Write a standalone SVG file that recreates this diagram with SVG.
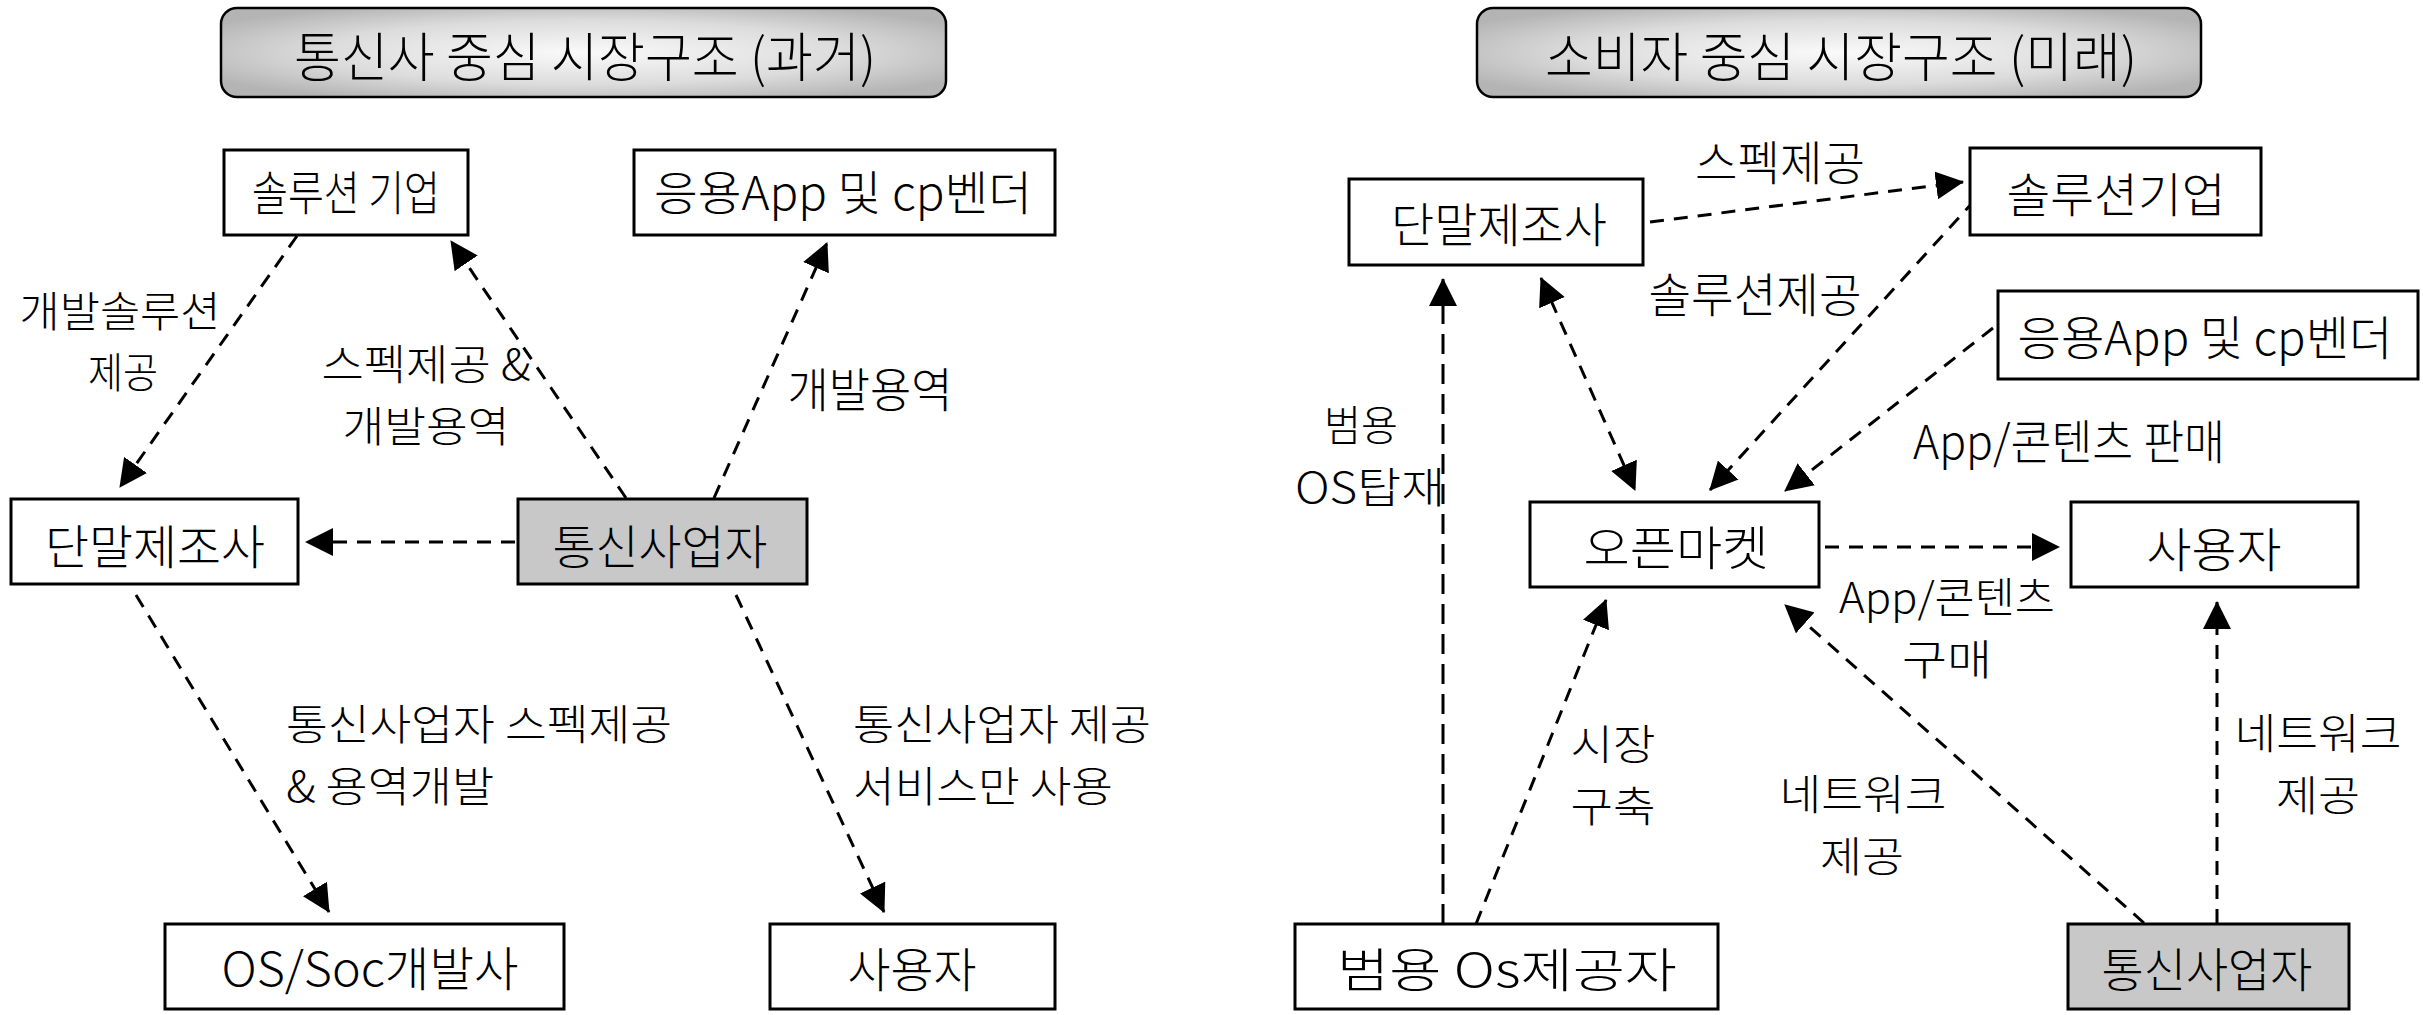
<svg xmlns="http://www.w3.org/2000/svg" width="2423" height="1015" viewBox="0 0 2423 1015">
<style>
text{font-family:"Noto Sans CJK KR","Noto Sans",sans-serif;font-size:47px;font-weight:300;fill:#000;text-anchor:middle}
.t{font-size:53px}
.s{font-size:42px}
.n{fill:#fff;stroke:#000;stroke-width:3}
.g{fill:#c8c8c8;stroke:#000;stroke-width:3}
.h{fill:url(#hg);stroke:#000;stroke-width:2.5}
.c{fill:none;stroke:#000;stroke-width:3;stroke-dasharray:14 10;marker-end:url(#ah)}
.lv{stroke-dasharray:20 10}
</style>
<defs>
<radialGradient id="hg" cx="0.5" cy="0.5" r="0.6">
<stop offset="0" stop-color="#fafafa"/>
<stop offset="0.6" stop-color="#dcdcdc"/>
<stop offset="1" stop-color="#b4b4b4"/>
</radialGradient>
<marker id="ah" markerUnits="userSpaceOnUse" markerWidth="28" markerHeight="28" viewBox="0 0 28 28" refX="27" refY="14" orient="auto-start-reverse">
<path d="M0,0 L28,14 L0,28 Z" fill="#000"/>
</marker>
</defs>
<rect width="2423" height="1015" fill="#fff"/>
<g id="connectors">
<line class="c" x1="297" y1="236" x2="120" y2="487"/>
<line class="c" x1="626" y1="498" x2="451" y2="241"/>
<line class="c" x1="714" y1="498" x2="827" y2="243"/>
<line class="c" x1="515" y1="542" x2="306" y2="542"/>
<line class="c" x1="136" y1="595" x2="329" y2="912"/>
<line class="c" x1="736" y1="595" x2="884" y2="912"/>
<line class="c" x1="1650" y1="222" x2="1963" y2="182"/>
<line class="c" x1="1975" y1="200" x2="1710" y2="490"/>
<line class="c" x1="1993" y1="328" x2="1785" y2="491"/>
<line class="c" x1="1541" y1="278" x2="1635" y2="490" style="marker-start:url(#ah)"/>
<line class="c lv" x1="1443" y1="924" x2="1443" y2="279"/>
<line class="c" x1="1476" y1="924" x2="1606" y2="600"/>
<line class="c" x1="2144" y1="923" x2="1785" y2="605"/>
<line class="c" x1="2217" y1="923" x2="2217" y2="602"/>
<line class="c" x1="1825" y1="547" x2="2059" y2="547"/>
</g>
<g id="labels">
<text class="s"><tspan x="120" y="327" textLength="201" lengthAdjust="spacingAndGlyphs">개발솔루션</tspan><tspan x="123" y="388" textLength="70" lengthAdjust="spacingAndGlyphs">제공</tspan></text>
<text class="s"><tspan x="426" y="380" textLength="209" lengthAdjust="spacingAndGlyphs">스펙제공 &amp;</tspan><tspan x="426" y="442" textLength="167" lengthAdjust="spacingAndGlyphs">개발용역</tspan></text>
<text x="870" y="407" textLength="165" lengthAdjust="spacingAndGlyphs">개발용역</text>
<text class="s" style="text-anchor:start"><tspan x="286" y="740" textLength="386" lengthAdjust="spacingAndGlyphs">통신사업자 스펙제공</tspan><tspan x="286" y="802" textLength="208" lengthAdjust="spacingAndGlyphs">&amp; 용역개발</tspan></text>
<text class="s" style="text-anchor:start"><tspan x="853" y="740" textLength="298" lengthAdjust="spacingAndGlyphs">통신사업자 제공</tspan><tspan x="853" y="802" textLength="260" lengthAdjust="spacingAndGlyphs">서비스만 사용</tspan></text>
<text x="1780" y="180" textLength="170" lengthAdjust="spacingAndGlyphs">스펙제공</text>
<text x="1755" y="312" textLength="213" lengthAdjust="spacingAndGlyphs">솔루션제공</text>
<text x="2069" y="459" textLength="312" lengthAdjust="spacingAndGlyphs">App/콘텐츠 판매</text>
<text class="s"><tspan x="1361" y="441" textLength="74" lengthAdjust="spacingAndGlyphs">범용</tspan><tspan x="1370" y="503" textLength="150" lengthAdjust="spacingAndGlyphs">OS탑재</tspan></text>
<text class="s"><tspan x="1947" y="613" textLength="216" lengthAdjust="spacingAndGlyphs">App/콘텐츠</tspan><tspan x="1947" y="675" textLength="90" lengthAdjust="spacingAndGlyphs">구매</tspan></text>
<text class="s"><tspan x="1613" y="760" textLength="85" lengthAdjust="spacingAndGlyphs">시장</tspan><tspan x="1613" y="822" textLength="85" lengthAdjust="spacingAndGlyphs">구축</tspan></text>
<text class="s"><tspan x="1863" y="810" textLength="167" lengthAdjust="spacingAndGlyphs">네트워크</tspan><tspan x="1862" y="872" textLength="84" lengthAdjust="spacingAndGlyphs">제공</tspan></text>
<text class="s"><tspan x="2318" y="749" textLength="167" lengthAdjust="spacingAndGlyphs">네트워크</tspan><tspan x="2318" y="811" textLength="84" lengthAdjust="spacingAndGlyphs">제공</tspan></text>
</g>
<g id="title-left"><rect class="h" x="221" y="8" width="725" height="89" rx="16"/><text class="t" x="585" y="77" textLength="582" lengthAdjust="spacingAndGlyphs">통신사 중심 시장구조 (과거)</text></g>
<g id="title-right"><rect class="h" x="1477" y="8" width="724" height="89" rx="16"/><text class="t" x="1841" y="77" textLength="592" lengthAdjust="spacingAndGlyphs">소비자 중심 시장구조 (미래)</text></g>
<g id="l-solution"><rect class="n" x="224" y="150" width="244" height="85"/><text x="346" y="210" textLength="188" lengthAdjust="spacingAndGlyphs">솔루션 기업</text></g>
<g id="l-app"><rect class="n" x="634" y="150" width="421" height="85"/><text x="843" y="210" textLength="378" lengthAdjust="spacingAndGlyphs">응용App 및 cp벤더</text></g>
<g id="l-maker"><rect class="n" x="11" y="499" width="287" height="85"/><text x="155" y="564" textLength="220" lengthAdjust="spacingAndGlyphs">단말제조사</text></g>
<g id="l-carrier"><rect class="g" x="518" y="499" width="289" height="85"/><text x="660" y="564" textLength="215" lengthAdjust="spacingAndGlyphs">통신사업자</text></g>
<g id="l-os"><rect class="n" x="165" y="924" width="399" height="85"/><text x="370" y="986" textLength="297" lengthAdjust="spacingAndGlyphs">OS/Soc개발사</text></g>
<g id="l-user"><rect class="n" x="770" y="924" width="285" height="85"/><text x="912" y="987" textLength="129" lengthAdjust="spacingAndGlyphs">사용자</text></g>
<g id="r-maker"><rect class="n" x="1349" y="179" width="294" height="86"/><text x="1499" y="242" textLength="216" lengthAdjust="spacingAndGlyphs">단말제조사</text></g>
<g id="r-solution"><rect class="n" x="1970" y="148" width="291" height="87"/><text x="2116" y="212" textLength="219" lengthAdjust="spacingAndGlyphs">솔루션기업</text></g>
<g id="r-app"><rect class="n" x="1998" y="291" width="420" height="88"/><text x="2205" y="355" textLength="375" lengthAdjust="spacingAndGlyphs">응용App 및 cp벤더</text></g>
<g id="r-market"><rect class="n" x="1530" y="502" width="289" height="85"/><text x="1676" y="565" textLength="185" lengthAdjust="spacingAndGlyphs">오픈마켓</text></g>
<g id="r-user"><rect class="n" x="2071" y="502" width="287" height="85"/><text x="2214" y="567" textLength="135" lengthAdjust="spacingAndGlyphs">사용자</text></g>
<g id="r-os"><rect class="n" x="1295" y="924" width="423" height="85"/><text x="1507" y="987" textLength="340" lengthAdjust="spacingAndGlyphs">범용 Os제공자</text></g>
<g id="r-carrier"><rect class="g" x="2068" y="924" width="281" height="85"/><text x="2207" y="987" textLength="211" lengthAdjust="spacingAndGlyphs">통신사업자</text></g>
</svg>
